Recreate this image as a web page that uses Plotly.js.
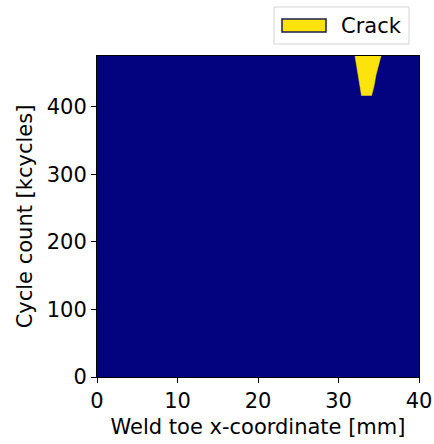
<!DOCTYPE html>
<html>
<head>
<meta charset="utf-8">
<script src="https://cdn.plot.ly/plotly-3.0.1.min.js"></script>
<style>html,body{margin:0;padding:0;background:#fff;}#chart{width:434px;height:444px;}</style>
</head>
<body>
<div id="chart"></div>
<script>
// Crack front: cycle count [kcycles] vs left/right edge of crack along weld toe [mm]
const cycles = [416, 430, 447, 462, 475];
const crackLeft = [32.86, 32.65, 32.42, 32.22, 32.05];
const crackRight = [34.1, 34.4, 34.66, 34.95, 35.28];
const xTicks = [0, 10, 20, 30, 40];
const yTicks = [0, 100, 200, 300, 400];
const xRange = [0, 40];
const yRange = [0, 475];
const seriesName = 'Crack';

const polyX = crackLeft.concat(crackRight.slice().reverse());
const polyY = cycles.concat(cycles.slice().reverse());

const font = {family: 'DejaVu Sans', size: 21, color: '#000'};
const crackColor = '#fbe30b';

const data = [{
  type: 'scatter', mode: 'lines', name: seriesName, showlegend: false,
  x: polyX, y: polyY, fill: 'toself', fillcolor: crackColor,
  line: {color: crackColor, width: 0.5}, hoverinfo: 'skip'
}];

// plot area in pixels: x 97..419, y 56..377
const px = v => (v - 97) / 322;
const py = v => (377 - v) / 321;

const layout = {
  width: 434, height: 444,
  margin: {l: 97, r: 15, t: 56, b: 67},
  paper_bgcolor: '#fff', plot_bgcolor: '#030380',
  font: font,
  showlegend: false,
  xaxis: {range: xRange, tickvals: xTicks, ticks: 'outside', ticklen: 5, tickcolor: '#000',
    showgrid: false, zeroline: false, showline: true, linecolor: '#000', mirror: true,
    title: {text: 'Weld toe x-coordinate [mm]', font: font, standoff: 7}, tickfont: font},
  yaxis: {range: yRange, tickvals: yTicks, ticks: 'outside', ticklen: 5, tickcolor: '#000',
    showgrid: false, zeroline: false, showline: true, linecolor: '#000', mirror: true,
    title: {text: 'Cycle count [kcycles]', font: font, standoff: 8}, tickfont: font},
  shapes: [
    {type: 'rect', xref: 'paper', yref: 'paper', x0: px(274), x1: px(409), y0: py(44), y1: py(7),
     fillcolor: '#fff', line: {color: '#d4d4d4', width: 1}},
    {type: 'rect', xref: 'paper', yref: 'paper', x0: px(282), x1: px(326), y0: py(32), y1: py(19),
     fillcolor: crackColor, line: {color: '#1c1c48', width: 1.5}}
  ],
  annotations: [
    {xref: 'paper', yref: 'paper', x: px(339), y: py(25.5), xanchor: 'left', yanchor: 'middle',
     text: seriesName, showarrow: false, font: font}
  ]
};

Plotly.newPlot('chart', data, layout, {displayModeBar: false, staticPlot: true});
</script>
</body>
</html>
